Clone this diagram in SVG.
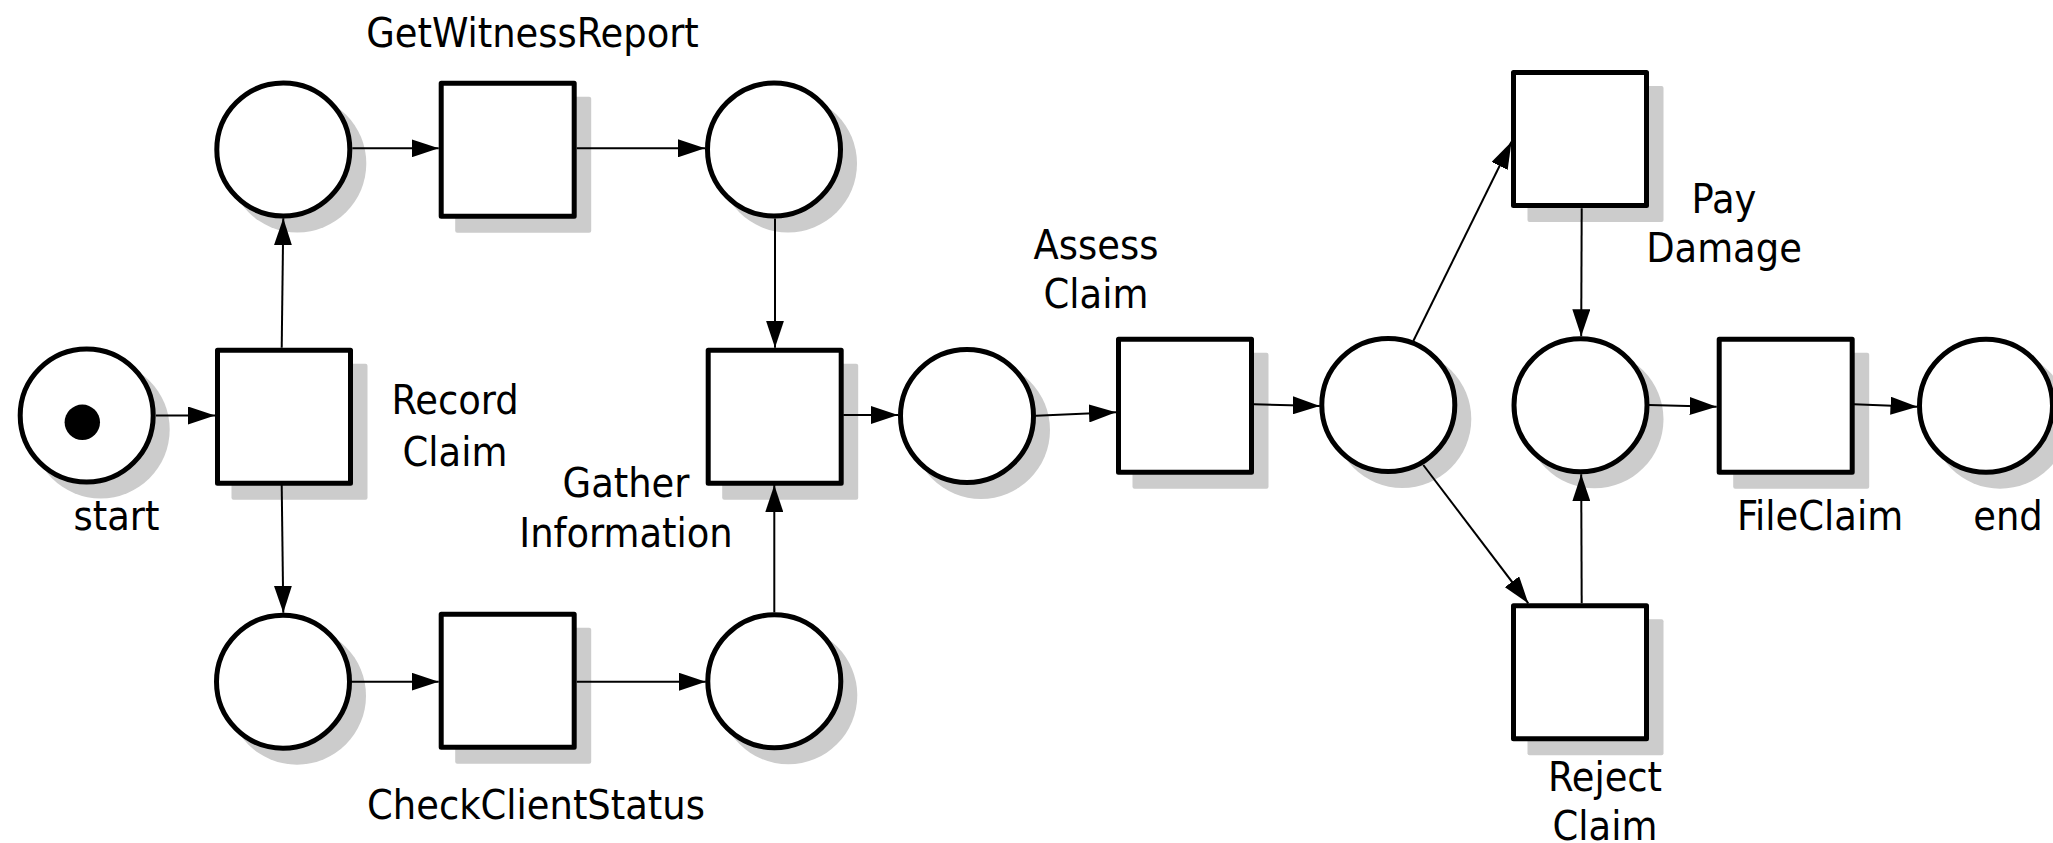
<svg xmlns="http://www.w3.org/2000/svg" width="2053" height="843" viewBox="0 0 2053 843">
<style>
.place{fill:#ffffff;stroke:#000000;stroke-width:5}
.trans{fill:#ffffff;stroke:#000000;stroke-width:5;stroke-linejoin:round}
.shadow{fill:#cccccc;stroke:none}
.token{fill:#000000;stroke:none}
.arc{fill:none;stroke:#000000;stroke-width:2;marker-end:url(#arrow)}
.lbl{font-family:"DejaVu Sans Condensed","DejaVu Sans",sans-serif;font-stretch:condensed;font-size:41px;fill:#000000;text-anchor:middle}
</style>
<defs>
<marker id="arrow" markerUnits="userSpaceOnUse" markerWidth="28" markerHeight="18" refX="27" refY="9" orient="auto">
<path d="M0,0 L27,9 L0,18 z" fill="#000000"/>
</marker>
</defs>
<rect width="2053" height="843" fill="#ffffff"/>
<g id="p_start">
<circle class="shadow" cx="100.7" cy="429.5" r="69"/>
<circle class="place" cx="86.7" cy="415.5" r="66.5"/>
<circle class="token" cx="82.3" cy="422.3" r="17.7"/>
<text class="lbl" x="116.5" y="530">start</text>
</g>
<g id="t_record">
<rect class="shadow" x="231.5" y="363.7" width="136" height="136" rx="2"/>
<rect class="trans" x="217.5" y="350.2" width="133" height="133"/>
<text class="lbl" x="455" y="414">Record</text>
<text class="lbl" x="455" y="466">Claim</text>
</g>
<g id="p_witness_in">
<circle class="shadow" cx="297.3" cy="163.5" r="69"/>
<circle class="place" cx="283.3" cy="149.5" r="66.5"/>
</g>
<g id="t_witness">
<rect class="shadow" x="455.2" y="96.7" width="136" height="136" rx="2"/>
<rect class="trans" x="441.2" y="83.2" width="133" height="133"/>
<text class="lbl" x="532.5" y="47">GetWitnessReport</text>
</g>
<g id="p_witness_out">
<circle class="shadow" cx="788" cy="163.5" r="69"/>
<circle class="place" cx="774" cy="149.5" r="66.5"/>
</g>
<g id="p_check_in">
<circle class="shadow" cx="297" cy="695.7" r="69"/>
<circle class="place" cx="283" cy="681.7" r="66.5"/>
</g>
<g id="t_check">
<rect class="shadow" x="455.2" y="627.7" width="136" height="136" rx="2"/>
<rect class="trans" x="441.2" y="614.2" width="133" height="133"/>
<text class="lbl" x="536" y="819">CheckClientStatus</text>
</g>
<g id="p_check_out">
<circle class="shadow" cx="788.3" cy="695.3" r="69"/>
<circle class="place" cx="774.3" cy="681.3" r="66.5"/>
</g>
<g id="t_gather">
<rect class="shadow" x="722.2" y="363.7" width="136" height="136" rx="2"/>
<rect class="trans" x="708.2" y="350.2" width="133" height="133"/>
<text class="lbl" x="626" y="497">Gather</text>
<text class="lbl" x="626" y="547">Information</text>
</g>
<g id="p_gathered">
<circle class="shadow" cx="981" cy="430" r="69"/>
<circle class="place" cx="967" cy="416" r="66.5"/>
</g>
<g id="t_assess">
<rect class="shadow" x="1132.5" y="352.7" width="136" height="136" rx="2"/>
<rect class="trans" x="1118.5" y="339.2" width="133" height="133"/>
<text class="lbl" x="1096" y="259">Assess</text>
<text class="lbl" x="1096" y="308">Claim</text>
</g>
<g id="p_assessed">
<circle class="shadow" cx="1402.3" cy="419" r="69"/>
<circle class="place" cx="1388.3" cy="405" r="66.5"/>
</g>
<g id="t_pay">
<rect class="shadow" x="1527.5" y="86" width="136" height="136" rx="2"/>
<rect class="trans" x="1513.5" y="72.5" width="133" height="133"/>
<text class="lbl" x="1724" y="213">Pay</text>
<text class="lbl" x="1724" y="262">Damage</text>
</g>
<g id="t_reject">
<rect class="shadow" x="1527.5" y="619.3" width="136" height="136" rx="2"/>
<rect class="trans" x="1513.5" y="605.8" width="133" height="133"/>
<text class="lbl" x="1605" y="791">Reject</text>
<text class="lbl" x="1605" y="840">Claim</text>
</g>
<g id="p_decided">
<circle class="shadow" cx="1594.5" cy="419.3" r="69"/>
<circle class="place" cx="1580.5" cy="405.3" r="66.5"/>
</g>
<g id="t_file">
<rect class="shadow" x="1733.2" y="352.7" width="136" height="136" rx="2"/>
<rect class="trans" x="1719.2" y="339.2" width="133" height="133"/>
<text class="lbl" x="1820" y="530">FileClaim</text>
</g>
<g id="p_end">
<circle class="shadow" cx="2000" cy="419.7" r="69"/>
<circle class="place" cx="1986" cy="405.7" r="66.5"/>
<text class="lbl" x="2008" y="530">end</text>
</g>
<g id="connectors">
<path class="arc" d="M156,415.5 L215,415.5"/>
<path class="arc" d="M281.7,347.7 L283.3,218.3"/>
<path class="arc" d="M281.7,485 L283.3,612.7"/>
<path class="arc" d="M352.3,148.3 L438.7,148.3"/>
<path class="arc" d="M576.7,148.3 L705,148.3"/>
<path class="arc" d="M775,218.5 L775,347.7"/>
<path class="arc" d="M352,681.7 L438.7,681.7"/>
<path class="arc" d="M576.7,681.7 L705.8,681.7"/>
<path class="arc" d="M774.3,612.3 L774.3,485"/>
<path class="arc" d="M843.3,415 L898,415"/>
<path class="arc" d="M1036,415.7 L1116,412.3"/>
<path class="arc" d="M1254,404.3 L1319.8,406"/>
<path class="arc" d="M1413.3,341 L1511.5,141.7"/>
<path class="arc" d="M1423.3,465 L1528.3,603.3"/>
<path class="arc" d="M1581.7,208.3 L1581.2,336.3"/>
<path class="arc" d="M1581.7,603.3 L1581.2,474.3"/>
<path class="arc" d="M1649,405 L1716.7,406.7"/>
<path class="arc" d="M1854,404.3 L1917.5,406.7"/>
</g>
</svg>
